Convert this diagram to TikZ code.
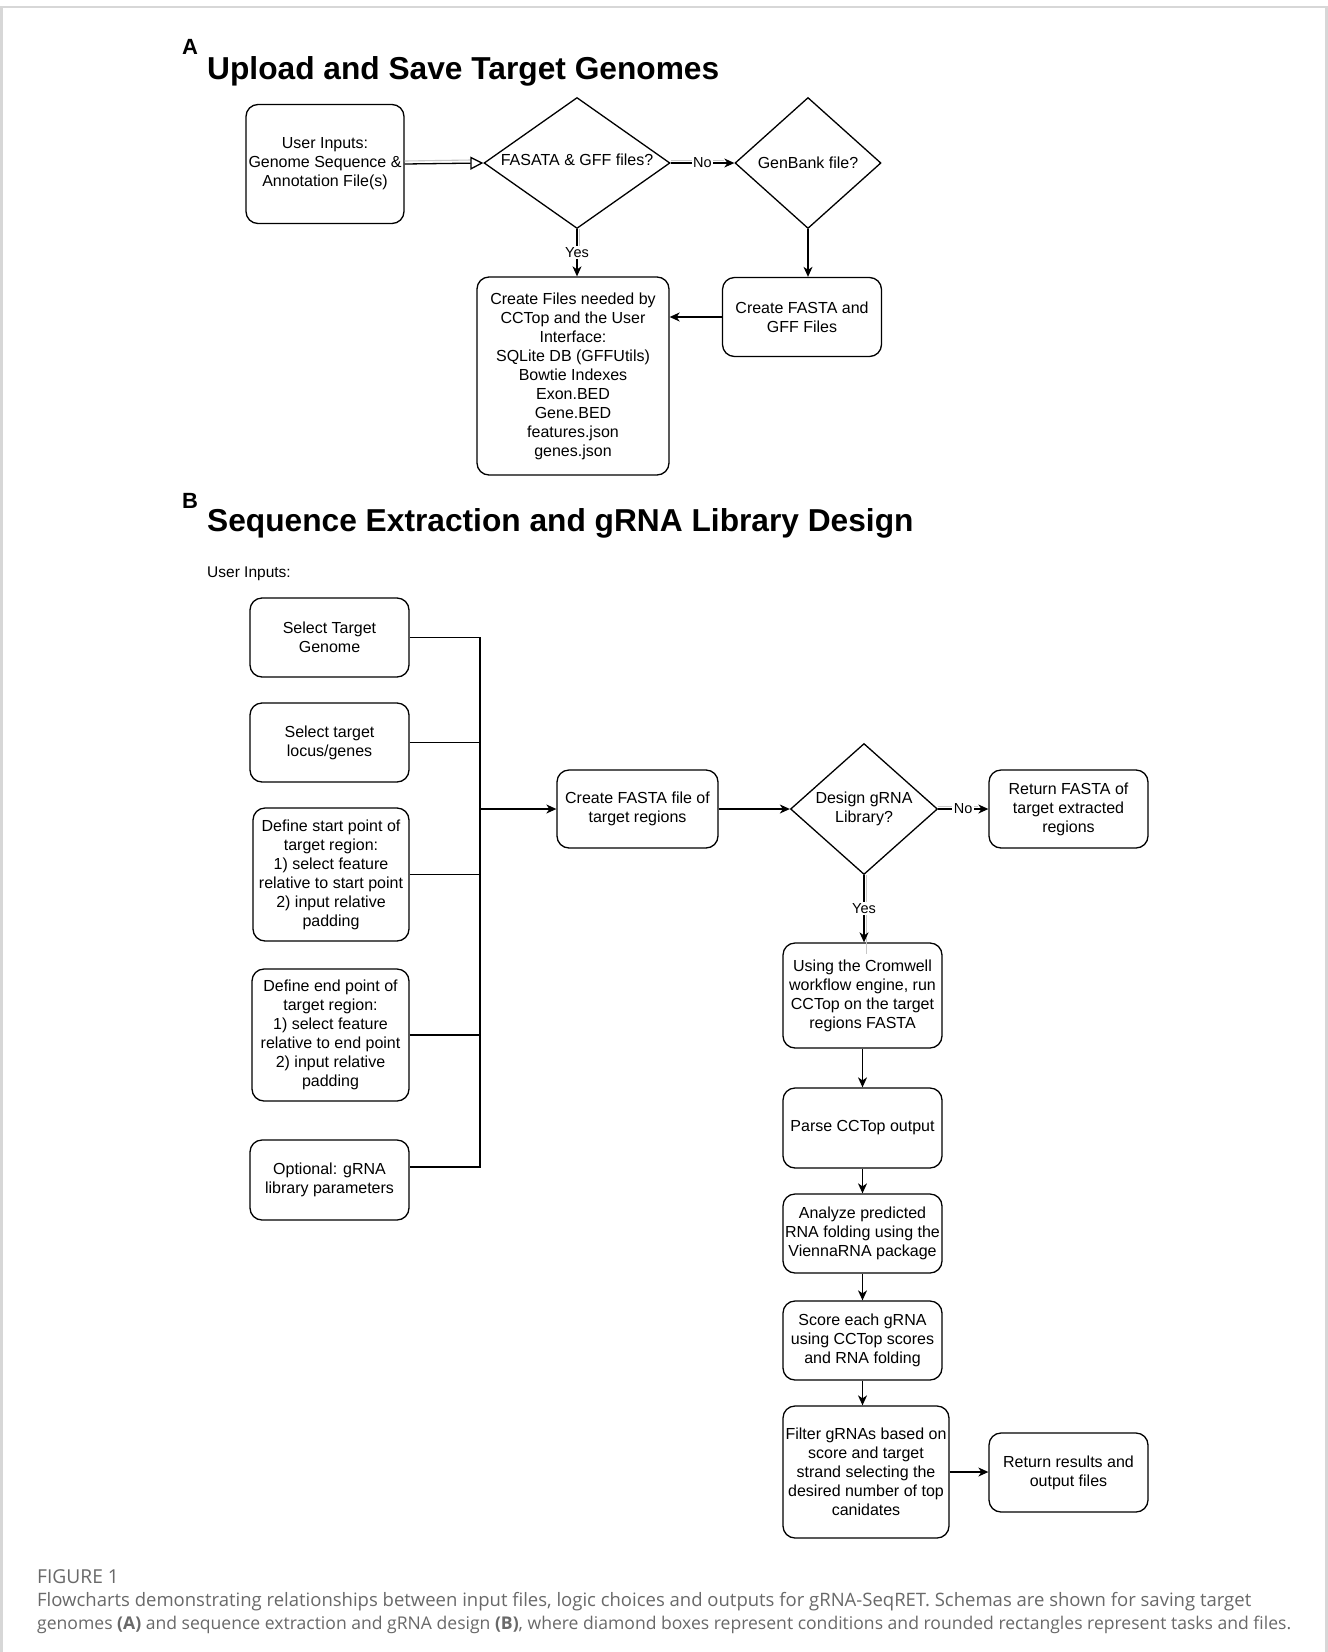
\documentclass[tikz,border=0pt]{standalone}
\usepackage{graphicx}
\usepackage{fontspec}
\setmainfont{Liberation Sans}
\newfontfamily\capfont{Open Sans}
\usetikzlibrary{shapes.geometric,arrows.meta,calc}
\definecolor{capgray}{RGB}{105,105,105}
\definecolor{framegray}{RGB}{215,215,215}
\begin{document}
\begin{tikzpicture}[x=1pt,y=-1pt,
  every node/.style={font=\fontsize{16}{19}\selectfont},
  box/.style={draw, rounded corners=12pt, line width=1.3pt, align=center, inner sep=1pt},
  dia/.style={draw, diamond, line width=1.3pt, inner sep=0pt},
  conn/.style={line width=1.3pt},
  arr/.style={conn, -{Stealth[length=10pt,width=9pt,inset=3pt]}},
  ghost/.style={draw=gray!45, line width=1.1pt},
  lbl/.style={fill=white, inner sep=1.5pt, font=\fontsize{14.5}{17}\selectfont},
  ttl/.style={font=\fontsize{31.7}{38}\selectfont\bfseries, anchor=west, inner sep=0pt},
  lett/.style={font=\fontsize{22}{26}\selectfont\bfseries, anchor=west, inner sep=0pt},
  captxt/.style={anchor=west, inner sep=0pt, text=capgray, font=\capfont\fontsize{17.5}{20}\selectfont}
]
\useasboundingbox[fill=white] (0,0) rectangle (1328,1652);
\draw[framegray, line width=2.2pt] (1.5,1652) -- (1.5,7) -- (1326.5,7) -- (1326.5,1652);

% ---------------- A ----------------
\node[lett] (la) at (182,47) {A};
\node[ttl] (ta) at (207,71) {Upload and Save Target Genomes};

\node[box, minimum width=158pt, minimum height=119pt] (ui) at (325,164)
  {\raisebox{-3pt}{\parbox{156pt}{\centering User Inputs:\\Genome Sequence \&\\Annotation File(s)}}};
\node[dia, minimum width=186pt, minimum height=131pt,
  label={[yshift=3pt]center:FASATA \& GFF files?}] (d1) at (577,163) {};
\node[dia, minimum width=146pt, minimum height=131pt,
  label={center:GenBank file?}] (d2) at (808,163) {};
\node[box, minimum width=192pt, minimum height=198pt] (cf) at (573,376)
  {Create Files needed by\\CCTop and the User\\Interface:\\SQLite DB (GFFUtils)\\Bowtie Indexes\\Exon.BED\\Gene.BED\\features.json\\genes.json};
\node[box, minimum width=159pt, minimum height=79pt] (cfa) at (802,317)
  {Create FASTA and\\GFF Files};

\draw[ghost] ([yshift=3pt]ui.east) -- ([yshift=3pt,xshift=-12pt]d1.west);
\draw[conn, -{Triangle[open,length=13pt,width=13pt]}] (ui.east) -- (d1.west);
\draw[ghost] ([yshift=2.5pt]d1.east) -- ([yshift=2.5pt,xshift=-10pt]d2.west);
\draw[arr] (d1.east) -- node[lbl] (no1) {No} (d2.west);
\draw[ghost] ([xshift=2.5pt]d1.south) -- ([xshift=2.5pt]$(d1.south)!0.5!(d1.south |- cf.north)$);
\draw[arr] (d1.south) -- node[lbl] (yes1) {Yes} (d1.south |- cf.north);
\draw[arr] (d2.south) -- (d2.south |- cfa.north);
\draw[arr] (cfa.west) -- (cfa.west -| cf.east);

% ---------------- B ----------------
\node[lett] (lb) at (182,501) {B};
\node[ttl] (tb) at (207,523) {Sequence Extraction and gRNA Library Design};
\node[anchor=west, inner sep=0pt, font=\fontsize{15.5}{18}\selectfont] (uib) at (207,574) {User Inputs:};

\node[box, minimum width=159pt, minimum height=79pt] (s1) at (329.5,637.5) {Select Target\\Genome};
\node[box, minimum width=159pt, minimum height=79pt] (s2) at (329.5,742.5) {Select target\\locus/genes};
\node[box, minimum width=156pt, minimum height=133pt] (s3) at (331,874.5)
  {Define start point of\\target region:\\1) select feature\\relative to start point\\2) input relative\\padding};
\node[box, minimum width=157pt, minimum height=132pt] (s4) at (330.5,1035)
  {Define end point of\\target region:\\1) select feature\\relative to end point\\2) input relative\\padding};
\node[box, minimum width=159pt, minimum height=80pt] (s5) at (329.5,1180) {Optional: gRNA\\library parameters};

\coordinate (bt) at (480,637.5);
\coordinate (bb) at (480,1167);
\coordinate (bm) at (480,809);
\draw[conn] (s1.east) -- (bt) -- (bb) -- (s5.east |- bb);
\draw[conn] (s2.east) -- (s2.east -| bt);
\draw[conn] (s3.east) -- (s3.east -| bt);
\draw[conn] (s4.east) -- (s4.east -| bt);

\node[box, minimum width=161pt, minimum height=78pt] (fa) at (637.5,809) {Create FASTA file of\\target regions};
\node[dia, minimum width=147pt, minimum height=131pt,
  label={center:\parbox{140pt}{\centering Design gRNA\\Library?}}] (d3) at (864,809) {};
\node[box, minimum width=159pt, minimum height=78pt] (rf) at (1068.5,809) {Return FASTA of\\target extracted\\regions};
\node[box, minimum width=159pt, minimum height=105pt] (cr) at (862.5,995.5)
  {Using the Cromwell\\workflow engine, run\\CCTop on the target\\regions FASTA};
\node[box, minimum width=159pt, minimum height=80pt] (pa) at (862.5,1128) {Parse CCTop output};
\node[box, minimum width=159pt, minimum height=79pt] (an) at (862.5,1233.5)
  {Analyze predicted\\RNA folding using the\\ViennaRNA package};
\node[box, minimum width=159pt, minimum height=79pt] (sc) at (862.5,1340.5)
  {Score each gRNA\\using CCTop scores\\and RNA folding};
\node[box, minimum width=166pt, minimum height=132pt] (fi) at (866,1472)
  {Filter gRNAs based on\\score and target\\strand selecting the\\desired number of top\\canidates};
\node[box, minimum width=159pt, minimum height=79pt] (rr) at (1068.5,1472.5) {Return results and\\output files};

\draw[arr] (bm) -- (fa.west);
\draw[arr] (fa.east) -- (d3.west);
\draw[ghost] ([yshift=2.5pt]d3.east) -- ([yshift=2.5pt,xshift=-10pt]rf.west);
\draw[arr] (d3.east) -- node[lbl] (no2) {No} (rf.west);
\draw[ghost] ([xshift=2.5pt]d3.south) -- ([xshift=2.5pt,yshift=-12pt]d3.south |- cr.north);
\draw[arr] (d3.south) -- node[lbl] (yes2) {Yes} (d3.south |- cr.north);
\draw[arr] (cr.south) -- (cr.south |- pa.north);
\draw[arr] (pa.south) -- (pa.south |- an.north);
\draw[arr] (an.south) -- (an.south |- sc.north);
\draw[arr] (sc.south) -- (sc.south |- fi.north);
\draw[arr] (fi.east) -- (fi.east -| rr.west);

% ---------------- caption ----------------
\node[captxt, font=\capfont\fontsize{19.2}{22}\selectfont] (c0) at (37,1577) {FIGURE 1};
\node[captxt] (c1) at (37,1602) {\resizebox{1214pt}{!}{Flowcharts demonstrating relationships between input files, logic choices and outputs for gRNA-SeqRET. Schemas are shown for saving target}};
\node[captxt] (c2) at (37,1625) {\resizebox{1254pt}{!}{genomes \textbf{(A)} and sequence extraction and gRNA design \textbf{(B)}, where diamond boxes represent conditions and rounded rectangles represent tasks and files.}};
\end{tikzpicture}
\end{document}
